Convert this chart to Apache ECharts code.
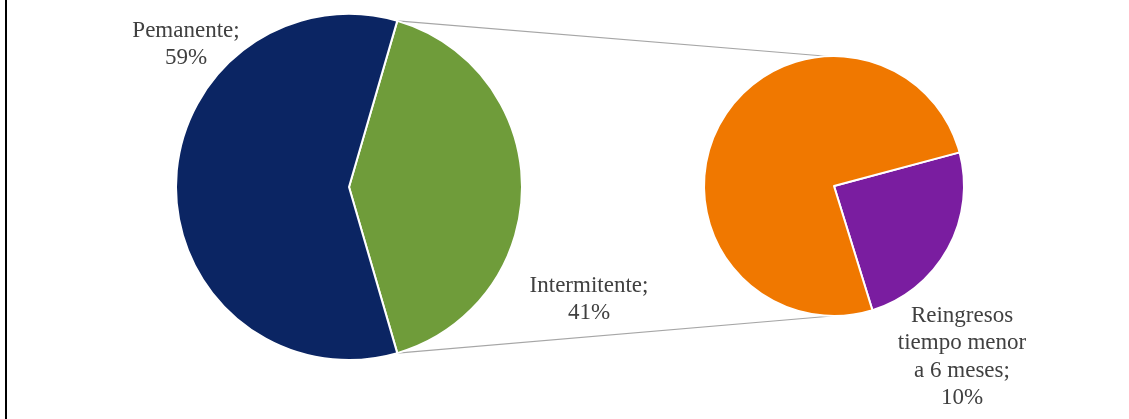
<!DOCTYPE html>
<html>
<head>
<meta charset="utf-8">
<script src="https://cdn.jsdelivr.net/npm/echarts@6/dist/echarts.min.js"></script>
<style>
  html, body { margin: 0; padding: 0; background: #ffffff; }
  #chart { width: 1129px; height: 419px; }
</style>
</head>
<body>
<div id="chart"></div>
<script>
// Main pie: tipo de estancia
const mainNames = ['Pemanente', 'Intermitente'];
const mainValues = [59, 41];

// Secondary pie: breakdown of "Intermitente"
const subNames = ['Reingresos tiempo menor a 6 meses', 'Otros intermitentes'];
const subValues = [10, 31];
const subLabelText = ['Reingresos\ntiempo menor\na 6 meses;\n10%', ''];

const mainColors = ['#0b2563', '#6f9c3a'];
const subColors = ['#7a1da0', '#f07800'];

// Layout of the two circles (pixels)
const mainCenter = [349, 187], mainR = 173;
const subCenter = [834, 186], subR = 130;

// Label anchor points (pixels)
const mainLabelPos = [[186, 44], [589, 299]];
const subLabelPos = [[962, 357], null];

const fontFamily = '"Liberation Serif", "DejaVu Serif", serif';

// Green slice is centred on the east direction, so it starts half its sweep above
const mainTotal = mainValues.reduce((a, b) => a + b, 0);
const greenSweep = mainValues[1] / mainTotal * 360;
const mainStart = greenSweep / 2;   // Intermitente drawn first, clockwise
const subStart = 15;

const chart = echarts.init(document.getElementById('chart'), null, { renderer: 'canvas' });

// Connector lines from the edges of the green slice to the top/bottom of the second pie
const rad = Math.PI / 180;
const topA = [mainCenter[0] + mainR * Math.cos(mainStart * rad), mainCenter[1] - mainR * Math.sin(mainStart * rad)];
const botA = [mainCenter[0] + mainR * Math.cos(-mainStart * rad), mainCenter[1] - mainR * Math.sin(-mainStart * rad)];
const topB = [subCenter[0] - 4, subCenter[1] - subR + 0.5];
const botB = [subCenter[0] + 4, subCenter[1] + subR - 0.5];

chart.setOption({
  backgroundColor: '#ffffff',
  animation: false,
  graphic: [
    { type: 'rect', shape: { x: 5, y: 0, width: 2, height: 419 }, style: { fill: '#000000' }, z: 10 },
    { type: 'line', shape: { x1: topA[0], y1: topA[1], x2: topB[0], y2: topB[1] },
      style: { stroke: '#a6a6a6', lineWidth: 1.2 }, z: -1 },
    { type: 'line', shape: { x1: botA[0], y1: botA[1], x2: botB[0], y2: botB[1] },
      style: { stroke: '#a6a6a6', lineWidth: 1.2 }, z: -1 }
  ],
  series: [
    {
      type: 'pie',
      center: mainCenter,
      radius: [0, mainR],
      startAngle: mainStart,
      clockwise: true,
      avoidLabelOverlap: false,
      itemStyle: { borderColor: '#ffffff', borderWidth: 2 },
      label: {
        show: true,
        position: 'outside',
        formatter: p => p.name + ';\n' + p.value + '%',
        fontFamily: fontFamily,
        fontSize: 23,
        lineHeight: 27,
        color: '#404040',
        align: 'center'
      },
      labelLine: { show: false },
      labelLayout: params => {
        const idx = mainNames.indexOf(params.text.split(';')[0]);
        const pos = mainLabelPos[idx];
        return { x: pos[0], y: pos[1], align: 'center', verticalAlign: 'middle' };
      },
      emphasis: { disabled: true },
      data: [1, 0].map(i => ({
        name: mainNames[i], value: mainValues[i],
        itemStyle: { color: mainColors[i] }
      }))
    },
    {
      type: 'pie',
      center: subCenter,
      radius: [0, subR],
      startAngle: subStart,
      clockwise: true,
      avoidLabelOverlap: false,
      itemStyle: { borderColor: '#ffffff', borderWidth: 2 },
      label: {
        show: true,
        position: 'outside',
        formatter: p => subLabelText[p.dataIndex],
        fontFamily: fontFamily,
        fontSize: 23,
        lineHeight: 27.5,
        color: '#404040',
        align: 'center'
      },
      labelLine: { show: false },
      labelLayout: params => {
        const pos = subLabelPos[params.dataIndex];
        if (!pos) return {};
        return { x: pos[0], y: pos[1], align: 'center', verticalAlign: 'middle' };
      },
      emphasis: { disabled: true },
      data: subNames.map((n, i) => ({
        name: n, value: subValues[i],
        itemStyle: { color: subColors[i] },
        label: { show: i === 0 }
      }))
    }
  ]
});
</script>
</body>
</html>
